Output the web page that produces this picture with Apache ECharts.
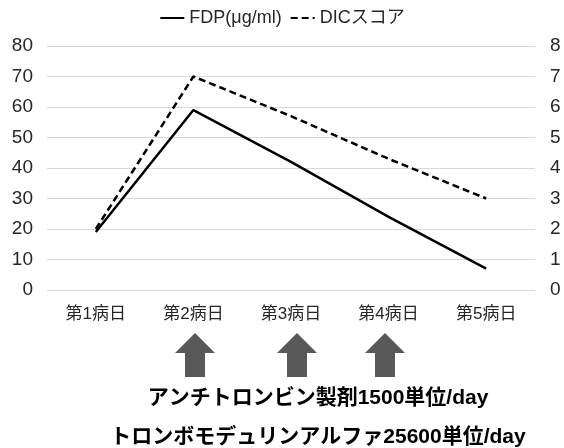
<!DOCTYPE html>
<html>
<head>
<meta charset="utf-8">
<script src="https://cdn.jsdelivr.net/npm/echarts@6/dist/echarts.min.js"></script>
<style>
  html,body{margin:0;padding:0;background:#fff;}
  #chart{width:564px;height:448px;}
</style>
</head>
<body>
<div id="chart"></div>
<script>
// 病日
const days=['第1病日','第2病日','第3病日','第4病日','第5病日']
// FDP(μg/ml) 左軸
const fdp=[19,59,42,24,7]
// DICスコア 右軸
const dic=[2,7,5.7,4.3,3]
const drugLines=['アンチトロンビン製剤1500単位/day','トロンボモデュリンアルファ25600単位/day']

const font='"Liberation Sans","Noto Sans CJK JP",sans-serif'
const chart=echarts.init(document.getElementById('chart'))

// 上向き矢印(灰色)
function arrow(cx){
  return {
    type:'polygon',
    shape:{points:[[cx,333],[cx+20,353],[cx+10,353],[cx+10,377],[cx-10,377],[cx-10,353],[cx-20,353]]},
    style:{fill:'#595959'}
  }
}

let option={
  animation:false,
  textStyle:{fontFamily:font},
  legend:{
    top:4,
    left:'center',
    itemWidth:24,
    itemGap:8,
    itemStyle:{opacity:0},
    textStyle:{fontSize:18,color:'#262626',fontFamily:font},
    data:['FDP(μg/ml)','DICスコア']
  },
  grid:{left:47,right:29,top:46,bottom:158},
  xAxis:{
    type:'category',
    data:days,
    axisLine:{show:false},
    axisTick:{show:false},
    axisLabel:{fontSize:17,color:'#262626',margin:16,fontFamily:font}
  },
  yAxis:[
    {
      type:'value',min:0,max:80,interval:10,
      axisLabel:{fontSize:19,color:'#262626',margin:14,fontFamily:font},
      splitLine:{lineStyle:{color:'#d9d9d9',width:1}}
    },
    {
      type:'value',min:0,max:8,interval:1,
      axisLabel:{fontSize:19,color:'#262626',margin:15,fontFamily:font},
      splitLine:{show:false}
    }
  ],
  series:[
    {
      name:'FDP(μg/ml)',type:'line',data:fdp,yAxisIndex:0,
      showSymbol:false,symbol:'none',
      lineStyle:{color:'#000',width:2.5},itemStyle:{color:'#000'}
    },
    {
      name:'DICスコア',type:'line',data:dic,yAxisIndex:1,
      showSymbol:false,symbol:'none',
      lineStyle:{color:'#000',width:2.5,type:[7,4]},itemStyle:{color:'#000'}
    }
  ],
  graphic:[
    arrow(195),arrow(297),arrow(385),
    {
      type:'text',x:318,y:398,
      style:{text:drugLines[0],font:'bold 21px '+font,fill:'#000',align:'center',verticalAlign:'middle'}
    },
    {
      type:'text',x:318,y:437,
      style:{text:drugLines[1],font:'bold 21px '+font,fill:'#000',align:'center',verticalAlign:'middle'}
    }
  ]
}
chart.setOption(option)
</script>
</body>
</html>
